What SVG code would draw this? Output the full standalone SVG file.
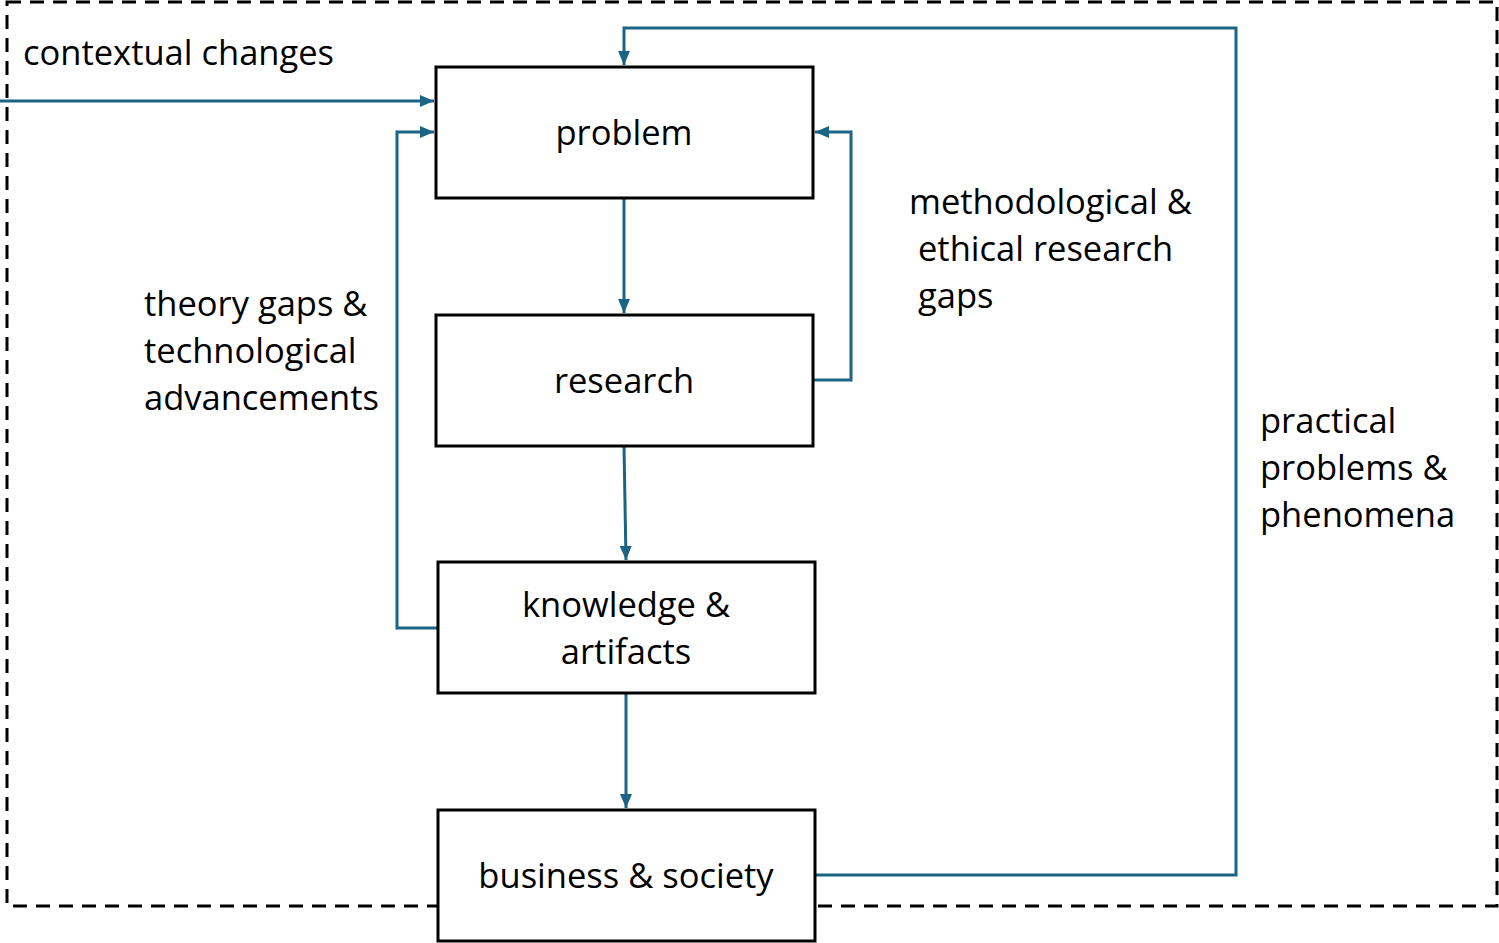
<svg xmlns="http://www.w3.org/2000/svg" width="1499" height="943" viewBox="0 0 1499 943">
<style>
.node{fill:#fff;stroke:#000;stroke-width:3}
.lbl{font-family:"Open Sans","Liberation Sans",sans-serif;font-size:34.5px;fill:#000}
.c{text-anchor:middle}
.conn{fill:none;stroke:#1a6585;stroke-width:3}
</style>
<defs>
<marker id="ah" viewBox="0 0 14 12" refX="14" refY="6" markerWidth="14" markerHeight="12" markerUnits="userSpaceOnUse" orient="auto">
<path d="M0,0 L14,6 L0,12 Z" fill="#1a6585"/>
</marker>
</defs>
<rect x="7" y="2" width="1490" height="904" fill="none" stroke="#000" stroke-width="3" stroke-dasharray="14 9"/>
<g id="connectors">
<path class="conn" d="M0,101 H434" marker-end="url(#ah)"/>
<path class="conn" d="M438,628 H397 V132 H434" marker-end="url(#ah)"/>
<path class="conn" d="M813,380 H851 V132 H815" marker-end="url(#ah)"/>
<path class="conn" d="M624,198 V313" marker-end="url(#ah)"/>
<path class="conn" d="M624,446 L626,560" marker-end="url(#ah)"/>
<path class="conn" d="M626,693 V808" marker-end="url(#ah)"/>
<path class="conn" d="M815,875 H1236 V28 H624 V65" marker-end="url(#ah)"/>
</g>
<g id="problem"><rect class="node" x="436" y="67" width="377" height="131"/><text class="lbl c" x="624" y="145">problem</text></g>
<g id="research"><rect class="node" x="436" y="315" width="377" height="131"/><text class="lbl c" x="624" y="393">research</text></g>
<g id="knowledge"><rect class="node" x="438" y="562" width="377" height="131"/><text class="lbl c" x="626" y="617">knowledge &amp;</text><text class="lbl c" x="626" y="664">artifacts</text></g>
<g id="business"><rect class="node" x="438" y="810" width="377" height="131"/><text class="lbl c" x="626" y="888">business &amp; society</text></g>
<g id="labels">
<text class="lbl" x="23" y="65">contextual changes</text>
<text class="lbl" x="144" y="316">theory gaps &amp;</text>
<text class="lbl" x="144" y="363">technological</text>
<text class="lbl" x="144" y="410">advancements</text>
<text class="lbl" x="909" y="214">methodological &amp;</text>
<text class="lbl" x="918" y="261">ethical research</text>
<text class="lbl" x="918" y="308">gaps</text>
<text class="lbl" x="1260" y="433">practical</text>
<text class="lbl" x="1260" y="480">problems &amp;</text>
<text class="lbl" x="1260" y="527">phenomena</text>
</g>
</svg>
